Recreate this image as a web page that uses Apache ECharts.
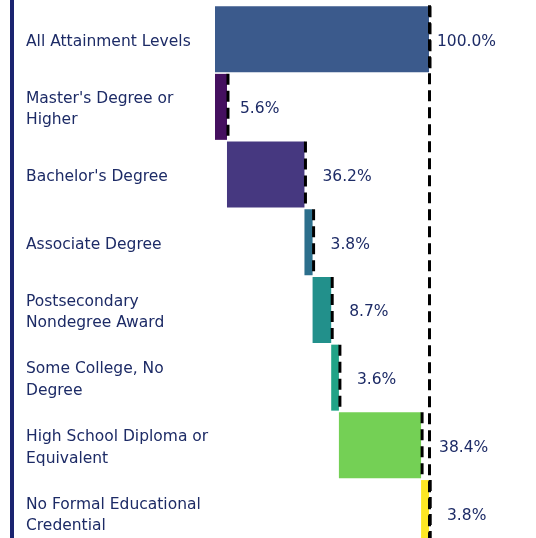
<!DOCTYPE html>
<html>
<head>
<meta charset="utf-8">
<script src="https://cdn.jsdelivr.net/npm/echarts@6/dist/echarts.min.js"></script>
<style>
	html, body { margin: 0; padding: 0; background: #fff; }
	#main { width: 536px; height: 538px; }
</style>
</head>
<body>
<div id="main"></div>
<script>
// 类别（按从上到下的顺序）
var categories = [
	"All Attainment Levels",
	"Master's Degree or\nHigher",
	"Bachelor's Degree",
	"Associate Degree",
	"Postsecondary\nNondegree Award",
	"Some College, No\nDegree",
	"High School Diploma or\nEquivalent",
	"No Formal Educational\nCredential"
];

// 各类别所占百分比
var shares = [100.0, 5.6, 36.2, 3.8, 8.7, 3.6, 38.4, 3.8];

// 每个柱子的颜色
var barColors = ['#3b5a8c', '#45105f', '#463880', '#2c6f8c', '#22908b', '#21a387', '#74d055', '#fde725'];

// 瀑布图的起点：第一个从0开始，其余依次累加
var starts = [];
var acc = 0;
for (var i = 0; i < shares.length; i++) {
	if (i == 0) {
		starts.push(0);
	} else {
		starts.push(acc);
		acc += shares[i];
	}
}

var textColor = '#1d2b66';
var fontFamily = 'DejaVu Sans';

var valueData = shares.map(function(v, i) {
	var dist = 18;
	if (i == 0) dist = 8;
	if (i == 1) dist = 13;
	return {
		value: v,
		itemStyle: { color: barColors[i] },
		label: { distance: dist }
	};
});

var endData = shares.map(function(v, i) {
	return [starts[i] + v, i];
});

var myChart = echarts.init(document.getElementById('main'));
myChart.setOption({
	animation: false,
	grid: {
		left: 215,
		top: 5.3,
		width: 214,
		height: 541.6,
		outerBoundsMode: 'none'
	},
	graphic: [{
		type: 'rect',
		left: 10,
		top: 0,
		shape: { width: 4, height: 538 },
		style: { fill: '#1b2470' }
	}],
	xAxis: {
		type: 'value',
		min: 0,
		max: 100,
		show: false
	},
	yAxis: {
		type: 'category',
		data: categories,
		inverse: true,
		axisLine: { show: false },
		axisTick: { show: false },
		splitLine: { show: false },
		axisLabel: {
			align: 'left',
			margin: 189,
			// 顶部加一行空白，使文字略微下移
			formatter: function(value) {
				var lines = value.split('\n').map(function(s) {
					return '{t|' + s + '}';
				});
				return '{s| }\n' + lines.join('\n');
			},
			rich: {
				s: { fontSize: 1, lineHeight: 5 },
				t: {
					color: textColor,
					fontFamily: fontFamily,
					fontSize: 15.5,
					lineHeight: 21.5
				}
			}
		}
	},
	series: [{
		type: 'bar',
		stack: 'wf',
		data: starts,
		barCategoryGap: '2.5%',
		itemStyle: { color: 'transparent' },
		silent: true
	}, {
		type: 'bar',
		stack: 'wf',
		data: valueData,
		barCategoryGap: '2.5%',
		label: {
			show: true,
			position: 'right',
			offset: [0, 2.5],
			color: textColor,
			fontFamily: fontFamily,
			fontSize: 15.5,
			formatter: function(p) {
				return p.value.toFixed(1) + '%';
			}
		},
		markLine: {
			silent: true,
			symbol: 'none',
			label: { show: false },
			lineStyle: { color: '#000', width: 3, type: [11, 6] },
			data: [{ xAxis: 100 }]
		}
	}, {
		// 每个柱子右端的虚线
		type: 'custom',
		data: endData,
		encode: { x: 0, y: 1 },
		z: 5,
		renderItem: function(params, api) {
			var p = api.coord([api.value(0), api.value(1)]);
			var h = api.size([0, 1])[1] * 0.975;
			var x = p[0] + 1;
			return {
				type: 'line',
				shape: { x1: x, y1: p[1] - h / 2, x2: x, y2: p[1] + h / 2 },
				style: { stroke: '#000', lineWidth: 3, lineDash: [11, 6] }
			};
		}
	}]
});
</script>
</body>
</html>
